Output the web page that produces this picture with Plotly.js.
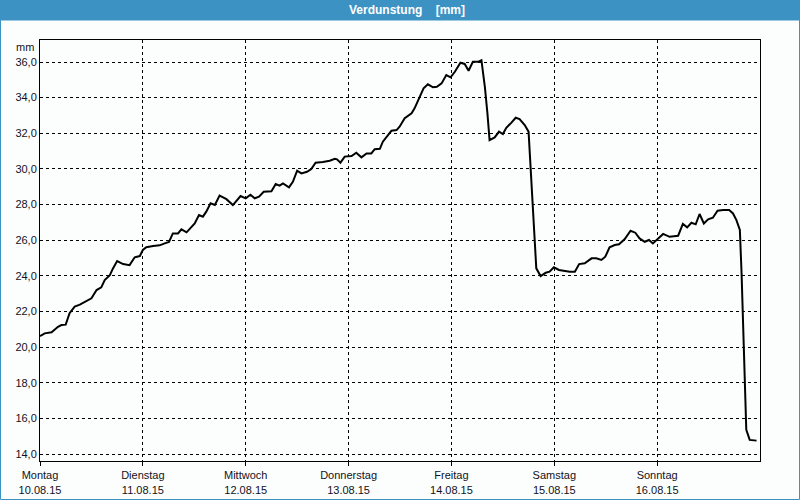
<!DOCTYPE html>
<html>
<head>
<meta charset="utf-8">
<script src="https://cdn.plot.ly/plotly-3.0.1.min.js"></script>
<style>
  html, body { margin: 0; padding: 0; background: #fcfefe; }
  #chart { width: 800px; height: 500px; }
</style>
</head>
<body>
<div id="chart"></div>
<script>
// Hours since Monday 10.08.15 00:00
const hours = [0,1.1,2.7,4.2,5.0,6.0,6.9,8.1,9.3,10.4,
  12.0,13.2,14.3,15.1,16.3,17.0,18.0,19.4,20.9,22.1,
  23.3,24.0,24.8,26.4,27.9,29.1,30.1,31.0,32.2,33.0,
  34.2,36.1,37.1,38.0,38.8,39.8,40.8,41.9,43.5,45.0,
  46.8,48.0,49.1,50.1,51.1,52.2,54.0,55.0,55.9,56.7,
  58.1,59.0,60.0,61.0,62.3,63.3,64.3,66.0,67.6,68.8,
  69.3,70.1,71.1,72.7,73.8,75.0,76.2,77.3,78.1,79.3,
  80.0,81.2,82.0,83.2,83.9,85.1,86.7,87.4,88.6,89.5,
  90.5,91.7,92.6,93.7,94.8,95.8,96.8,98.1,99.1,100.0,
  101.0,102.2,103.0,103.8,104.4,104.9,106.1,107.1,108.0,108.8,
  110.0,111.0,111.9,113.1,114.0,114.4,114.8,115.3,115.8,116.8,
  118.0,118.9,119.9,121.1,123.6,124.8,125.8,127.1,128.7,129.8,
  131.0,131.9,132.9,134.1,135.1,136.4,137.8,138.9,139.9,141.1,
  142.1,143.0,144.2,145.4,146.9,148.9,150.0,151.0,152.0,153.0,
  153.9,154.9,155.9,157.0,158.1,159.4,160.8,161.7,162.5,163.3,
  163.7,164.0,164.4,164.8,165.6,167.2];

const verdunstung = [20.62,20.77,20.83,21.14,21.24,21.26,21.9,22.27,22.38,22.53,
  22.74,23.2,23.35,23.76,24.04,24.4,24.83,24.66,24.6,25.04,
  25.11,25.45,25.6,25.67,25.71,25.82,25.9,26.38,26.38,26.61,
  26.44,26.94,27.41,27.32,27.6,28.07,27.98,28.5,28.3,27.97,
  28.48,28.35,28.55,28.35,28.44,28.72,28.74,29.15,29.06,29.19,
  28.97,29.28,29.9,29.75,29.84,29.99,30.35,30.39,30.46,30.57,
  30.54,30.35,30.69,30.72,30.91,30.65,30.87,30.87,31.11,31.13,
  31.53,31.9,32.14,32.18,32.37,32.84,33.12,33.4,34.05,34.52,
  34.75,34.58,34.61,34.8,35.27,35.14,35.45,35.96,35.89,35.51,
  36.01,36.01,36.1,34.61,33.12,31.62,31.77,32.09,31.96,32.31,
  32.6,32.87,32.8,32.46,32.09,30.5,28.25,26.38,24.42,23.99,
  24.17,24.23,24.48,24.33,24.23,24.23,24.66,24.7,24.98,24.98,
  24.89,25.07,25.6,25.73,25.77,26.05,26.53,26.42,26.1,25.91,
  26.01,25.82,26.1,26.35,26.19,26.25,26.91,26.72,26.98,26.89,
  27.47,26.94,27.17,27.26,27.65,27.69,27.69,27.5,27.13,26.57,
  24.14,21.33,18.15,15.35,14.79,14.75];

const dayNames = ["Montag","Dienstag","Mittwoch","Donnerstag","Freitag","Samstag","Sonntag"];
const dayDates = ["10.08.15","11.08.15","12.08.15","13.08.15","14.08.15","15.08.15","16.08.15"];
const dayTickHours = [0,24,48,72,96,120,144];
const yTickVals = [14,16,18,20,22,24,26,28,30,32,34,36];

const font = {family: "Tahoma, 'Liberation Sans', Arial, sans-serif", size: 11, color: "#111122"};

const trace = {
  x: hours,
  y: verdunstung,
  type: "scatter",
  mode: "lines",
  line: {color: "#000000", width: 2, shape: "linear"},
  hoverinfo: "skip"
};

const layout = {
  width: 800,
  height: 500,
  margin: {l: 40, r: 40, t: 40, b: 39, pad: 0},
  paper_bgcolor: "#fcfefe",
  plot_bgcolor: "#fcfefe",
  separators: ",.",
  showlegend: false,
  font: font,
  title: {
    text: "<b>Verdunstung&nbsp;&nbsp;&nbsp;&nbsp;[mm]</b>",
    font: {family: "Tahoma, 'Liberation Sans', Arial, sans-serif", size: 12, color: "#ffffff"},
    x: 407/800, xref: "container", xanchor: "center",
    y: 1 - 10/500, yref: "container", yanchor: "middle"
  },
  xaxis: {
    range: [0, 168],
    tickmode: "array",
    tickvals: dayTickHours,
    ticktext: dayNames.map((d, i) => d + "<br>" + dayDates[i]),
    ticks: "outside",
    ticklen: 4,
    tickcolor: "#000",
    showline: true,
    linecolor: "#000",
    linewidth: 1,
    mirror: true,
    showgrid: true,
    gridcolor: "#000",
    gridwidth: 1,
    griddash: "3px,3px",
    zeroline: false,
    fixedrange: true,
    tickfont: font
  },
  yaxis: {
    range: [13.607, 37.235],
    tickmode: "array",
    tickvals: yTickVals,
    tickformat: ".1f",
    ticks: "",
    showline: true,
    linecolor: "#000",
    linewidth: 1,
    mirror: true,
    showgrid: true,
    gridcolor: "#000",
    gridwidth: 1,
    griddash: "3px,3px",
    zeroline: false,
    fixedrange: true,
    tickfont: font
  },
  shapes: [
    {type: "rect", xref: "paper", yref: "paper",
     x0: -40/720, x1: 1 + 40/720, y0: 1 + 19.5/421, y1: 1 + 40/421,
     fillcolor: "#3d92c4", line: {width: 0}, layer: "below"},
    {type: "rect", xref: "paper", yref: "paper",
     x0: -39.5/720, x1: 1 + 39.5/720, y0: -38.5/421, y1: 1 + 39.5/421,
     fillcolor: "rgba(0,0,0,0)", line: {color: "#3d92c4", width: 1}}
  ],
  annotations: [
    {text: "mm", xref: "paper", yref: "paper", x: 0, y: 1,
     xanchor: "right", yanchor: "middle", xshift: -4, yshift: -6.7,
     showarrow: false, font: font}
  ]
};

Plotly.newPlot("chart", [trace], layout, {displayModeBar: false, staticPlot: true});
</script>
</body>
</html>
